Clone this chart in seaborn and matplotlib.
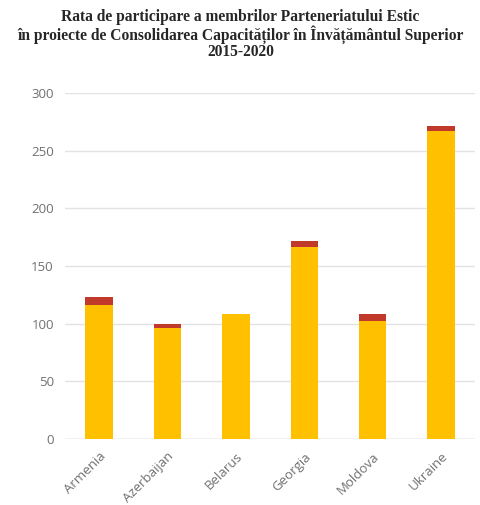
import pandas as pd
import matplotlib
matplotlib.use("Agg")
import matplotlib.pyplot as plt
import seaborn as sns

# data
countries = ["Armenia", "Azerbaijan", "Belarus", "Georgia", "Moldova", "Ukraine"]
main_vals = [116, 96, 108, 166, 102, 267]   # yellow part
extra_vals = [7, 4, 0, 6, 6, 4]             # red part on top
title_lines = [
    "Rata de participare a membrilor Parteneriatului Estic",
    "în proiecte de Consolidarea Capacităților în Învățământul Superior",
    "2015-2020",
]

df = pd.DataFrame({"country": countries, "main": main_vals, "extra": extra_vals})
df["total"] = df["main"] + df["extra"]

sns.set_theme(style="white")
plt.rcParams["font.family"] = ["Open Sans", "DejaVu Sans"]

fig = plt.figure(figsize=(4.81, 5.05), dpi=100)
ax = fig.add_axes([0.135, 0.131, 0.853, 0.685])

sns.barplot(data=df, x="country", y="total", color="#C0392B", width=0.4,
            saturation=1, linewidth=0, ax=ax, zorder=3)
sns.barplot(data=df, x="country", y="main", color="#FFC000", width=0.4,
            saturation=1, linewidth=0, ax=ax, zorder=4)

ax.set_ylim(0, 300)
ax.set_yticks(range(0, 301, 50))
ax.set_xlim(-0.5, 5.5)
ax.yaxis.grid(True, color="#E3E3E3", linewidth=1, zorder=0)
ax.set_axisbelow(True)
for s in ax.spines.values():
    s.set_visible(False)
ax.axhline(0, color="#D9D9D9", linewidth=1, zorder=2)

ax.set_xlabel("")
ax.set_ylabel("")
ax.tick_params(axis="both", length=0, labelsize=9.5, colors="#707070", pad=8)
plt.setp(ax.get_xticklabels(), rotation=45, ha="right", rotation_mode="anchor")

# title: one text per line so the spacing stays even
for i, line in enumerate(title_lines):
    fig.text(0.5, 1 - (17 + 17.5 * i) / 505, line,
             ha="center", va="center", fontsize=11.2, fontweight="bold",
             family=["Liberation Serif", "DejaVu Serif"], color="#262626")

fig.savefig("out.png", dpi=100)
